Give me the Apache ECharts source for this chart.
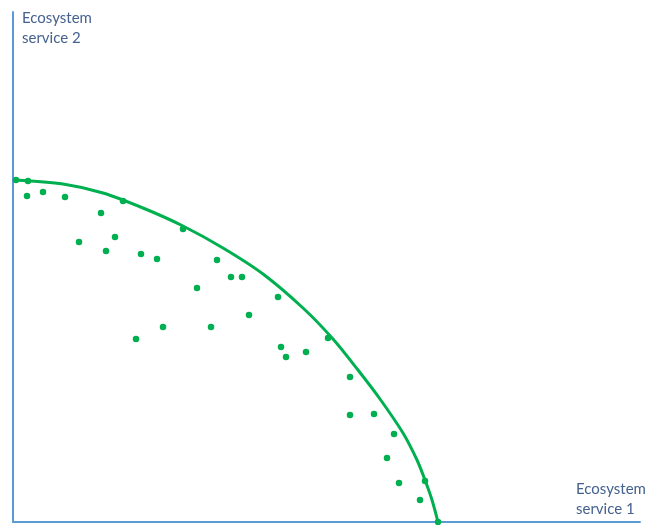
<!DOCTYPE html>
<html>
<head>
<meta charset="utf-8">
<script src="https://cdn.jsdelivr.net/npm/echarts@6/dist/echarts.min.js"></script>
<style>html,body{margin:0;padding:0;background:#fff}#c{width:649px;height:525px}</style>
</head>
<body>
<div id="c"></div>
<script>
// Values (arbitrary units)
const pointsX = [3,15,14,30,52,88,110,66,102,93,128,144,170,204,218,229,184,265,236,150,198,123,315,268,273,293,337,337,361,381,374,386,412,407,425];
const pointsY = [342,341,326,330,325,309,321,280,285,271,268,263,293,262,245,245,234,225,207,195,195,183,184,175,165,170,145,107,108,88,64,39,41,22,0];
const frontierX = [2,50,90,130,170,210,250,290,320,345,367,390,404,412,419,425];
const frontierY = [342,338,329,314,296,274,248,214,183,152,123,89,62,42,22,0];
const axisNameX = 'Ecosystem\nservice 1';
const axisNameY = 'Ecosystem\nservice 2';

const chart = echarts.init(document.getElementById('c'));
const axisCol = '#5b9bd5';
const green = '#00b050';
const textStyle = {fontFamily:'Lato', fontSize:15, fill:'#44618f', lineHeight:20};
chart.setOption({
  animation:false,
  grid:{left:13, right:9, top:12, bottom:3},
  xAxis:{type:'value', min:0, max:627, axisLine:{show:true, onZero:false, lineStyle:{color:axisCol, width:2}},
    axisTick:{show:false}, axisLabel:{show:false}, splitLine:{show:false}},
  yAxis:{type:'value', min:0, max:510, axisLine:{show:true, onZero:false, lineStyle:{color:axisCol, width:2}},
    axisTick:{show:false}, axisLabel:{show:false}, splitLine:{show:false}},
  graphic:[
    {type:'text', left:22, top:8, style:Object.assign({text:axisNameY}, textStyle)},
    {type:'text', left:576, top:479, style:Object.assign({text:axisNameX}, textStyle)}
  ],
  series:[
    {type:'line', smooth:0.3, showSymbol:false, clip:false,
     data:frontierX.map((x,i)=>[x,frontierY[i]]),
     lineStyle:{color:green, width:3}},
    {type:'scatter', symbolSize:6.5, clip:false,
     data:pointsX.map((x,i)=>[x,pointsY[i]]),
     itemStyle:{color:green, opacity:1}}
  ]
});
</script>
</body>
</html>
